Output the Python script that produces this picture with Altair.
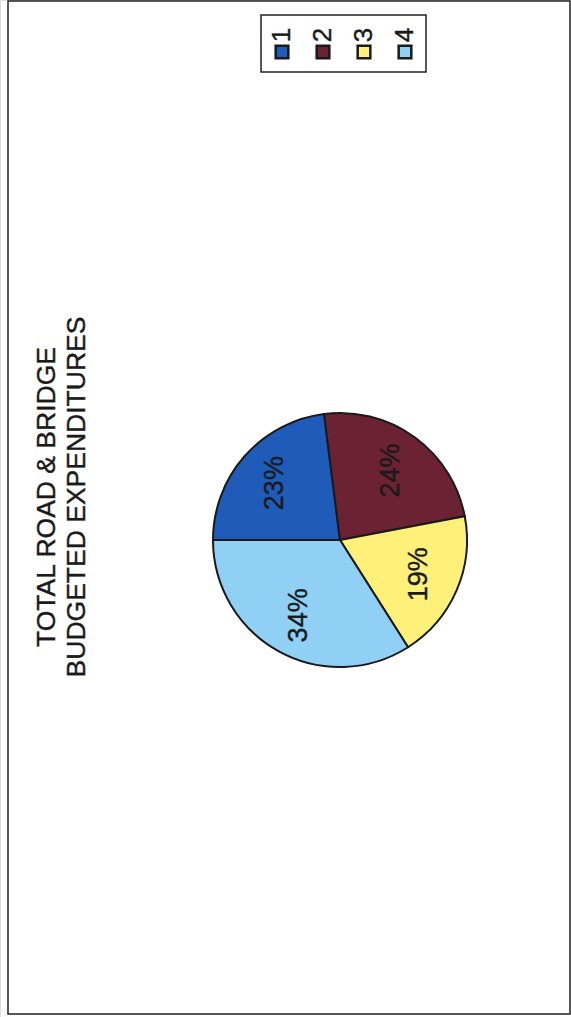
import altair as alt
import pandas as pd
import math

categories = ["1", "2", "3", "4"]
shares = [23, 24, 19, 34]
labels = ["23%", "24%", "19%", "34%"]
colors = ["#1f5bb8", "#6b2233", "#fff07a", "#8fd0f4"]
title_lines = "TOTAL ROAD & BRIDGE\nBUDGETED EXPENDITURES"

df = pd.DataFrame({"cat": categories, "share": shares, "label": labels, "order": [1, 2, 3, 4]})

FONT = "Liberation Sans"
W, H = 571, 1017
CX, CY, R = 340, 540, 127

color_scale = alt.Scale(domain=categories, range=colors)
theta_scale = alt.Scale(range=[1.5 * math.pi, 3.5 * math.pi])

base = alt.Chart(df)

frame = alt.Chart(pd.DataFrame({"a": [0]})).mark_rect(
    fill="white", stroke="#222", strokeWidth=1.5
).encode(x=alt.value(8), x2=alt.value(570), y=alt.value(1), y2=alt.value(1014))

pie = base.mark_arc(outerRadius=R, stroke="#1a1a1a", strokeWidth=2).encode(
    theta=alt.Theta("share:Q", stack=True, scale=theta_scale),
    color=alt.Color("cat:N", scale=color_scale, legend=None),
    order=alt.Order("order:Q"),
    x=alt.value(CX), y=alt.value(CY),
)

pie_text = base.mark_text(
    radius=86, angle=270, fontSize=27, font=FONT, color="#1a1a1a",
    align="center", baseline="middle", stroke="#1a1a1a", strokeWidth=0.4
).encode(
    theta=alt.Theta("share:Q", stack=True, scale=theta_scale),
    order=alt.Order("order:Q"),
    text="label:N",
    x=alt.value(CX), y=alt.value(CY),
)

title = alt.Chart(pd.DataFrame({"t": [title_lines]})).mark_text(
    angle=270, fontSize=26.5, font=FONT, color="#1a1a1a", lineBreak="\n",
    lineHeight=30, align="center", baseline="middle", stroke="#1a1a1a", strokeWidth=0.4
).encode(text="t:N", x=alt.value(47), y=alt.value(497))

legend_box = alt.Chart(pd.DataFrame({"a": [0]})).mark_rect(
    fill="white", stroke="#222", strokeWidth=1.5
).encode(x=alt.value(261), x2=alt.value(426), y=alt.value(15), y2=alt.value(72))

leg_x = alt.X("cat:N", scale=alt.Scale(type="point", domain=categories, range=[282, 405], padding=0), axis=None)

legend_sym = base.mark_square(size=160, stroke="#1a1a1a", strokeWidth=2.5, opacity=1).encode(
    x=leg_x, y=alt.value(52),
    color=alt.Color("cat:N", scale=color_scale, legend=None),
)

legend_txt = base.mark_text(
    angle=270, fontSize=26, font=FONT, color="#1a1a1a", align="center", baseline="middle",
    stroke="#1a1a1a", strokeWidth=0.4
).encode(x=leg_x, y=alt.value(35), text="cat:N")

chart = alt.layer(frame, pie, pie_text, title, legend_box, legend_sym, legend_txt).properties(
    width=W, height=H, padding=0, autosize=alt.AutoSizeParams(type="none")
).configure_view(stroke=None).configure(background="white")

chart.save("out.html", embed_options={"renderer": "svg", "actions": False})
